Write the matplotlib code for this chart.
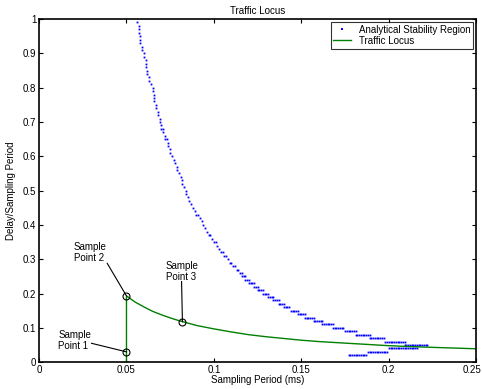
import numpy as np
import matplotlib.pyplot as plt
import matplotlib.transforms as mtransforms

plt.rcParams['font.family'] = ['Liberation Sans', 'DejaVu Sans']
plt.rcParams['font.size'] = 7

# analytical stability region: one row of grid points per delay ratio
# (x from row_x0 to row_x1 on the 0.001 ms grid)
row_y = [0.99, 0.98, 0.97, 0.96, 0.95, 0.94, 0.93, 0.92, 0.91, 0.90,
         0.89, 0.88, 0.87, 0.86, 0.85, 0.84, 0.83, 0.82, 0.81, 0.80,
         0.79, 0.78, 0.77, 0.76, 0.75, 0.74, 0.73, 0.72, 0.71, 0.70,
         0.69, 0.68, 0.67, 0.66, 0.65, 0.64, 0.63, 0.62, 0.61, 0.60,
         0.59, 0.58, 0.57, 0.56, 0.55, 0.54, 0.53, 0.52, 0.51, 0.50,
         0.49, 0.48, 0.47, 0.46, 0.45, 0.44, 0.43, 0.42, 0.41, 0.40,
         0.39, 0.38, 0.37, 0.36, 0.35, 0.34, 0.33, 0.32, 0.31, 0.30,
         0.29, 0.28, 0.27, 0.26, 0.25, 0.24, 0.23, 0.22, 0.21, 0.20,
         0.19, 0.18, 0.17, 0.16, 0.15, 0.14, 0.13, 0.12, 0.11, 0.10,
         0.09, 0.08, 0.07, 0.06, 0.05, 0.04, 0.03, 0.02]
row_x0 = [0.056, 0.057, 0.057, 0.057, 0.058, 0.058, 0.058, 0.059, 0.059, 0.060,
          0.060, 0.061, 0.061, 0.061, 0.062, 0.062, 0.063, 0.063, 0.064, 0.065,
          0.065, 0.066, 0.066, 0.066, 0.067, 0.067, 0.068, 0.068, 0.069, 0.069,
          0.070, 0.070, 0.071, 0.072, 0.072, 0.074, 0.074, 0.075, 0.075, 0.076,
          0.077, 0.078, 0.079, 0.079, 0.080, 0.081, 0.082, 0.082, 0.083, 0.084,
          0.084, 0.085, 0.086, 0.087, 0.088, 0.089, 0.090, 0.092, 0.093, 0.094,
          0.095, 0.096, 0.097, 0.099, 0.100, 0.102, 0.103, 0.104, 0.106, 0.108,
          0.109, 0.111, 0.113, 0.115, 0.116, 0.118, 0.120, 0.123, 0.125, 0.128,
          0.131, 0.134, 0.137, 0.140, 0.144, 0.148, 0.152, 0.157, 0.162, 0.168,
          0.175, 0.181, 0.189, 0.198, 0.209, 0.200, 0.188, 0.177]
row_x1 = [0.056, 0.057, 0.057, 0.057, 0.058, 0.058, 0.058, 0.059, 0.059, 0.060,
          0.060, 0.061, 0.061, 0.061, 0.062, 0.062, 0.063, 0.063, 0.064, 0.065,
          0.065, 0.066, 0.066, 0.066, 0.067, 0.067, 0.068, 0.068, 0.069, 0.069,
          0.070, 0.071, 0.071, 0.072, 0.073, 0.074, 0.074, 0.075, 0.075, 0.076,
          0.077, 0.078, 0.079, 0.079, 0.080, 0.081, 0.082, 0.082, 0.083, 0.084,
          0.084, 0.085, 0.086, 0.087, 0.088, 0.089, 0.091, 0.092, 0.093, 0.094,
          0.095, 0.096, 0.098, 0.099, 0.101, 0.102, 0.103, 0.105, 0.107, 0.108,
          0.110, 0.112, 0.114, 0.116, 0.118, 0.120, 0.123, 0.125, 0.128, 0.131,
          0.134, 0.137, 0.140, 0.143, 0.148, 0.152, 0.157, 0.162, 0.168, 0.174,
          0.181, 0.189, 0.197, 0.209, 0.222, 0.216, 0.199, 0.187]

# traffic locus
locus_x = [0.05, 0.05, 0.055, 0.06, 0.065, 0.07, 0.075, 0.08, 0.09, 0.10, 0.11,
           0.12, 0.13, 0.14, 0.15, 0.16, 0.18, 0.20, 0.22, 0.25]
locus_y = [0.0, 0.193, 0.175, 0.161, 0.148, 0.138, 0.129, 0.121, 0.107, 0.097,
           0.088, 0.080, 0.074, 0.069, 0.064, 0.060, 0.054, 0.048, 0.044, 0.039]

# sample points
sample_x = [0.05, 0.05, 0.082]
sample_y = [0.03, 0.193, 0.118]
sample_labels = ['Sample\nPoint 1', 'Sample\nPoint 2', 'Sample\nPoint 3']
label_x = [0.011, 0.020, 0.0725]
label_y = [0.062, 0.32, 0.265]
line_start = [(0.030, 0.055), (0.039, 0.288), (0.0815, 0.235)]

xs, ys = [], []
for y, a, b in zip(row_y, row_x0, row_x1):
    n = int(round((b - a) / 0.001)) + 1
    pts = np.linspace(a, b, n)
    xs.extend(pts)
    ys.extend([y] * n)

fig = plt.figure(figsize=(4.82, 3.89), dpi=100)
ax = fig.add_axes([0.081, 0.069, 0.907, 0.882])

ax.plot(xs, ys, 's', color='blue', markersize=1.3, markeredgewidth=0,
        label='Analytical Stability Region')
ax.plot(locus_x, locus_y, '-', color=(0, 0.5, 0), linewidth=1,
        label='Traffic Locus')
ax.plot(sample_x, sample_y, 'o', mfc='none', mec='black', markersize=5,
        markeredgewidth=0.8)

for i in range(3):
    ax.plot([line_start[i][0], sample_x[i]], [line_start[i][1], sample_y[i]],
            '-', color='black', linewidth=0.8)
    ax.text(label_x[i], label_y[i], sample_labels[i], ha='left', va='center',
            linespacing=1.15)

ax.set_xlim(0, 0.25)
ax.set_ylim(0, 1)
ax.set_xticks([0, 0.05, 0.1, 0.15, 0.2, 0.25])
ax.set_xticklabels(['0', '0.05', '0.1', '0.15', '0.2', '0.25'])
ax.set_yticks(np.arange(0, 1.01, 0.1))
ax.set_yticklabels(['0', '0.1', '0.2', '0.3', '0.4', '0.5', '0.6', '0.7',
                    '0.8', '0.9', '1'])
ax.tick_params(direction='in', top=True, right=True, length=3, width=0.8, pad=2)
for s in ax.spines.values():
    s.set_linewidth(1.2)

# keep the last x tick label inside the figure
last = ax.get_xticklabels()[-1]
last.set_transform(last.get_transform() +
                   mtransforms.ScaledTranslation(-4 / 100, 0, fig.dpi_scale_trans))

ax.set_title('Traffic Locus', pad=4, fontsize=7)
ax.set_xlabel('Sampling Period (ms)', labelpad=0)
ax.set_ylabel('Delay/Sampling Period', labelpad=5)

leg = ax.legend(loc='upper right', fancybox=False, edgecolor='black',
                borderaxespad=0.3, handlelength=1.8, borderpad=0.3,
                labelspacing=0.1, markerscale=1.5)
leg.get_frame().set_linewidth(0.8)

fig.savefig('out.png', dpi=100)
